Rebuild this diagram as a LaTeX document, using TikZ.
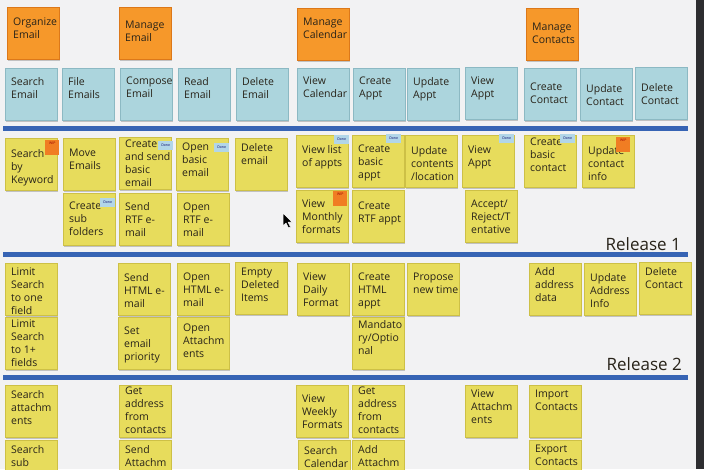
\documentclass[tikz,border=0pt]{standalone}
\usepackage{fontspec}
\setmainfont{Open Sans}
\usetikzlibrary{shadows}
\definecolor{bg}{RGB}{242,242,243}
\definecolor{ink}{RGB}{40,35,25}
\definecolor{yel}{RGB}{231,220,92}
\definecolor{yelb}{RGB}{205,192,70}
\definecolor{blu}{RGB}{172,213,221}
\definecolor{blub}{RGB}{140,185,195}
\definecolor{org}{RGB}{246,152,42}
\definecolor{orgb}{RGB}{220,120,25}
\definecolor{sepc}{RGB}{55,100,180}
\definecolor{donec}{RGB}{178,214,232}
\definecolor{wipc}{RGB}{240,125,35}
\definecolor{dark}{RGB}{45,45,48}
\tikzset{
 card/.style={anchor=north west, minimum width=52pt, minimum height=52pt, inner sep=0pt, outer sep=0pt,
   drop shadow={shadow xshift=0.6pt, shadow yshift=-1.6pt, opacity=0.35, fill=black!60}},
 ycard/.style={card, fill=yel, draw=yelb, line width=0.4pt},
 bcard/.style={card, fill=blu, draw=blub, line width=0.4pt},
 ocard/.style={card, fill=org, draw=orgb, line width=0.4pt},
 txt/.style={anchor=north west, inner sep=0pt, align=left, text=ink, font=\fontsize{10.5}{13}\selectfont},
 donetag/.style={anchor=north west, fill=donec, minimum width=15pt, minimum height=9pt, inner sep=0pt,
   font=\fontsize{3.5}{4}\selectfont, text=blue!40!black},
 wiptag/.style={anchor=north west, fill=wipc, minimum width=14pt, minimum height=15pt, inner sep=0pt,
   font=\fontsize{3.5}{4}\selectfont, text=red!60!black, text depth=8pt},
 sepline/.style={fill=sepc},
 rel/.style={anchor=base east, inner sep=0pt, text=ink, font=\fontsize{17}{20}\selectfont},
 cursor/.style={fill=black, draw=white, line width=0.5pt, line join=round}
}
\newcommand\nt[6][9]{\node[#3] (#2) at (#4,#5) {};\node[txt] (#2t) at ([xshift=6pt,yshift=-#1pt]#2.north west) {#6};}
\begin{document}
\begin{tikzpicture}[x=1pt,y=-1pt]
\useasboundingbox (0,0) rectangle (704,469);
\clip (0,0) rectangle (704,469);
\fill[bg] (0,0) rectangle (704,469);
\fill[dark] (696,0) rectangle (704,469);
% separators
\fill[sepline] (3,125.5) rectangle (688,130.5);
\fill[sepline] (3,252) rectangle (688,257);
\fill[sepline] (3,375) rectangle (688,380);
% activities
\nt[11]{o1}{ocard}{7}{7}{Organize\\Email}
\nt[14]{o2}{ocard}{119}{7}{Manage\\Email}
\nt[10]{o3}{ocard}{297}{8}{Manage\\Calendar}
\nt[15]{o4}{ocard}{526}{8}{Manage\\Contacts}
% tasks
\nt{b1}{bcard}{5}{68}{Search\\Email}
\nt{b2}{bcard}{62}{68}{File\\Emails}
\nt{b3}{bcard}{120}{68}{Compose\\Email}
\nt{b4}{bcard}{178}{68}{Read\\Email}
\nt{b5}{bcard}{236}{68}{Delete\\Email}
\nt{b6}{bcard}{297}{68}{View\\Calendar}
\nt{b7}{bcard}{353}{68}{Create\\Appt}
\nt{b8}{bcard}{407}{68}{Update\\Appt}
\nt[10]{b9}{bcard}{465}{67}{View\\Appt}
\nt[15]{b10}{bcard}{524}{68}{Create\\Contact}
\nt[16]{b11}{bcard}{580}{68}{Update\\Contact}
\nt[16]{b12}{bcard}{635}{67}{Delete\\Contact}
% release 1
\nt[11]{y11}{ycard}{5}{138}{Search\\by\\Keyword}
\nt[11]{y12}{ycard}{63}{138}{Move\\Emails}
\nt[3]{y13}{ycard}{119}{137}{Create\\and send\\basic\\email}
\nt[5]{y14}{ycard}{176}{138}{Open\\basic\\email}
\nt[5]{y15}{ycard}{235}{138}{Delete\\email}
\nt[10]{y16}{ycard}{296}{135}{View list\\of appts}
\nt[10]{y17}{ycard}{352}{135}{Create\\basic\\appt}
\nt[11]{y18}{ycard}{405}{135}{Update\\contents\\/location}
\nt[11]{y19}{ycard}{462}{135}{View\\Appt}
\nt[3]{y110}{ycard}{524}{135}{Create\\basic\\contact}
\nt[11]{y111}{ycard}{582}{135}{Update\\contact\\info}
\nt{y22}{ycard}{63}{193}{Create\\sub\\folders}
\nt{y23}{ycard}{119}{193}{Send\\RTF e-\\mail}
\nt[10]{y24}{ycard}{177}{193}{Open\\RTF e-\\mail}
\nt[10]{y26}{ycard}{296}{190}{View\\Monthly\\formats}
\nt[12]{y27}{ycard}{352}{190}{Create\\RTF appt}
\nt[10]{y29}{ycard}{465}{190}{Accept/\\Reject/T\\entative}
% tags
\node[wiptag] (t1) at (45,140) {WIP};
\node[donetag] (t2) at (158,141) {Done};
\node[donetag] (t3) at (214,143) {Done};
\node[donetag] (t4) at (334,135) {Done};
\node[donetag] (t5) at (100,198) {Done};
\node[wiptag] (t6) at (333,191) {WIP};
\node[donetag] (t7) at (386,134) {Done};
\node[donetag] (t8) at (499,134) {Done};
\node[donetag] (t9) at (560,134) {Done};
\node[wiptag] (t10) at (616,137) {WIP};
\node[rel] (r1) at (681,250) {Release 1};
% release 2
\nt[5]{z11}{ycard}{5}{263}{Limit\\Search\\to one\\field}
\nt[10]{z13}{ycard}{118}{263}{Send\\HTML e-\\mail}
\nt[10]{z14}{ycard}{177}{263}{Open\\HTML e-\\mail}
\nt[6]{z15}{ycard}{235}{262}{Empty\\Deleted\\Items}
\nt[10]{z16}{ycard}{297}{263}{View\\Daily\\Format}
\nt[10]{z17}{ycard}{352}{263}{Create\\HTML\\appt}
\nt[10]{z18}{ycard}{407}{263}{Propose\\new time}
\nt[4]{z110}{ycard}{529}{263}{Add\\address\\data}
\nt[10]{z111}{ycard}{584}{263}{Update\\Address\\Info}
\nt[5]{z112}{ycard}{639}{262}{Delete\\Contact}
\nt[3]{z21}{ycard}{5}{317}{Limit\\Search\\to 1+\\fields}
\nt[10]{z23}{ycard}{118}{317}{Set\\email\\priority}
\nt[7]{z24}{ycard}{177}{317}{Open\\Attachm\\ents}
\nt[3]{z27}{ycard}{352}{317}{Mandato\\ry/Optio\\nal}
\node[rel] (r2) at (682,370) {Release 2};
% release 3
\nt[5]{w11}{ycard}{5}{385}{Search\\attachm\\ents}
\nt[2]{w13}{ycard}{119}{385}{Get\\address\\from\\contacts}
\nt[10]{w16}{ycard}{296}{385}{View\\Weekly\\Formats}
\nt[2]{w17}{ycard}{352}{385}{Get\\address\\from\\contacts}
\nt[5]{w19}{ycard}{465}{385}{View\\Attachm\\ents}
\nt[5]{w110}{ycard}{529}{385}{Import\\Contacts}
\nt[5]{w21}{ycard}{5}{440}{Search\\sub}
\nt[5]{w23}{ycard}{119}{440}{Send\\Attachm}
\nt[6]{w26}{ycard}{298}{440}{Search\\Calendar}
\nt[5]{w27}{ycard}{352}{440}{Add\\Attachm}
\nt[5]{w210}{ycard}{529}{440}{Export\\Contacts}
% mouse pointer
\filldraw[cursor] (283,213) -- (283,226) -- (286,223) -- (288.5,228) -- (290.5,227) -- (288,222) -- (292,222) -- cycle;
\end{tikzpicture}
\end{document}
